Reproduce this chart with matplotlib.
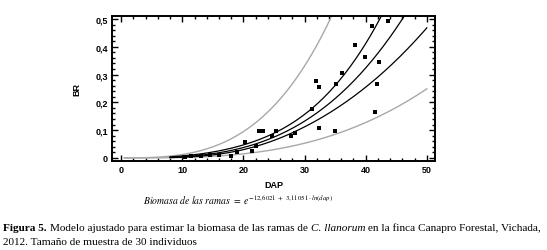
import numpy as np
import matplotlib
matplotlib.use("Agg")
import matplotlib.pyplot as plt
from matplotlib.ticker import MultipleLocator, FuncFormatter

# Observed data (DAP in cm, branch biomass BR)
dap = [10.5, 11.5, 13.0, 14.5, 16.0, 17.9, 19.0, 21.4, 22.1, 20.3,
       22.6, 23.2, 24.6, 25.3, 27.7, 28.5, 31.2, 32.3, 34.9, 31.8,
       32.4, 35.1, 36.2, 38.2, 39.9, 41.0, 41.9, 42.2, 43.6, 41.6]
br = [0.005, 0.006, 0.008, 0.010, 0.012, 0.008, 0.020, 0.026, 0.044, 0.059,
      0.098, 0.098, 0.079, 0.098, 0.078, 0.089, 0.176, 0.108, 0.097, 0.277,
      0.256, 0.266, 0.307, 0.406, 0.364, 0.474, 0.267, 0.344, 0.493, 0.167]

# Fitted model: BR = exp(a + b*ln(dap))
a_coef = -12.6021
b_coef = 3.11051

# Interval parameters on the log scale
t_val = 2.048
s_res = 0.44
n_obs = 30
mean_ln = 3.32
sxx = 3.61

x_ticks = [0, 10, 20, 30, 40, 50]
y_ticks = [0, 0.1, 0.2, 0.3, 0.4, 0.5]


def fit_curve(x):
    return np.exp(a_coef + b_coef * np.log(x))


def half_width(x, pred=False):
    d = np.log(x) - mean_ln
    base = 1.0 if pred else 0.0
    return t_val * s_res * np.sqrt(base + 1 / n_obs + d ** 2 / sxx)


fig = plt.figure(figsize=(5.47, 2.51), dpi=100)
ax = fig.add_axes([0.2048, 0.3546, 0.590, 0.578])

x_in = np.linspace(8, 50, 300)
x_out = np.linspace(0.5, 50, 400)

gray = "#a8a8a8"
ax.plot(x_out, fit_curve(x_out) * np.exp(half_width(x_out, True)), color=gray, lw=1.0)
ax.plot(x_out, fit_curve(x_out) * np.exp(-half_width(x_out, True)), color=gray, lw=1.0)
ax.plot(x_in, fit_curve(x_in) * np.exp(half_width(x_in)), color="black", lw=0.9)
ax.plot(x_in, fit_curve(x_in), color="black", lw=0.9)
ax.plot(x_in, fit_curve(x_in) * np.exp(-half_width(x_in)), color="black", lw=0.9)
ax.scatter(dap, br, marker="s", s=7, color="black", zorder=3, linewidths=0)

ax.set_xlim(-1.5, 51.3)
ax.set_ylim(-0.011, 0.511)
ax.set_xticks(x_ticks)
ax.set_yticks(y_ticks)
ax.xaxis.set_minor_locator(MultipleLocator(2))
ax.yaxis.set_minor_locator(MultipleLocator(0.02))
ax.yaxis.set_major_formatter(FuncFormatter(lambda v, p: "0" if abs(v) < 1e-9 else f"{v:.1f}".replace(".", ",")))

ax.tick_params(which="both", direction="in", top=True, right=True, width=1.0,
               labelsize=6.5, pad=3)
ax.tick_params(which="major", length=4)
ax.tick_params(which="minor", length=2)
for lab in ax.get_xticklabels() + ax.get_yticklabels():
    lab.set_fontweight("bold")
    lab.set_family("Liberation Sans")
for sp in ax.spines.values():
    sp.set_linewidth(1.4)

ax.set_xlabel("DAP", fontsize=6.5, fontweight="bold", family="Liberation Sans", labelpad=4)
ax.set_ylabel("BR", fontsize=6.5, fontweight="bold", family="Liberation Sans", labelpad=10)

plt.rcParams["mathtext.fontset"] = "stix"
fig.text(0.435, 0.203,
         r"$\mathit{Biomasa\ de\ las\ ramas}\ =\ e^{-12{,}6021\ +\ 3{,}11051\cdot\mathit{ln(dap)}}$",
         fontsize=7, ha="center", va="center")

# Caption, placed piece by piece
renderer = fig.canvas.get_renderer()
cap_size = 8.1


def put_pieces(pieces, x0, y0):
    x = x0
    for txt, style, weight in pieces:
        t = fig.text(x, y0, txt, fontsize=cap_size, family="Liberation Serif",
                     style=style, weight=weight, ha="left", va="baseline")
        bb = t.get_window_extent(renderer=renderer)
        x = x + bb.width / fig.bbox.width


line1 = [("Figura 5. ", "normal", "bold"),
         ("Modelo ajustado para estimar la biomasa de las ramas de ", "normal", "normal"),
         ("C. llanorum", "italic", "normal"),
         (" en la finca Canapro Forestal, Vichada,", "normal", "normal")]
line2 = [("2012. Tamaño de muestra de 30 individuos", "normal", "normal")]
put_pieces(line1, 0.006, 1 - 231 / 251)
put_pieces(line2, 0.006, 1 - 245 / 251)

fig.savefig("out.png", dpi=100)
